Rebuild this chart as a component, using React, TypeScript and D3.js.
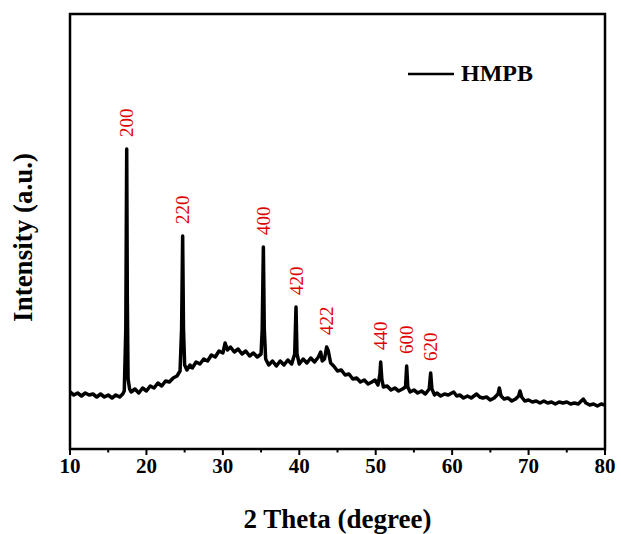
import React from 'react';
import * as d3 from 'd3';

const width = 621;
const height = 534;
const margin = { top: 14, right: 16, bottom: 85, left: 70 };

// XRD scan of HMPB, [2 theta, intensity (a.u.)]
const hmpbScan: [number, number][] = [
  [10.0, 57], [10.5, 54], [11.0, 56], [11.5, 53], [12.0, 56], [12.5, 54], [13.0, 55], [13.5, 52],
  [14.0, 55], [14.5, 52], [15.0, 54], [15.5, 51], [16.0, 54], [16.5, 52], [16.9, 55], [17.1, 58],
  [17.3, 120], [17.42, 300], [17.5, 150], [17.6, 70], [17.8, 60], [18.0, 57], [18.5, 60], [19.0, 56],
  [19.5, 61], [20.0, 58], [20.5, 63], [21.0, 61], [21.5, 66], [22.0, 63], [22.5, 68], [23.0, 67],
  [23.5, 71], [24.0, 73], [24.4, 78], [24.6, 120], [24.74, 213], [24.85, 120], [25.0, 84], [25.3, 79],
  [25.7, 84], [26.0, 81], [26.5, 87], [27.0, 85], [27.5, 90], [28.0, 88], [28.5, 94], [29.0, 92],
  [29.5, 98], [30.0, 96], [30.3, 106], [30.6, 99], [31.0, 102], [31.5, 97], [32.0, 100], [32.5, 95],
  [33.0, 98], [33.5, 93], [34.0, 96], [34.5, 92], [35.0, 95], [35.15, 120], [35.3, 202], [35.42, 120],
  [35.6, 90], [36.0, 84], [36.5, 88], [37.0, 83], [37.5, 88], [38.0, 84], [38.5, 89], [39.0, 85],
  [39.4, 95], [39.57, 142], [39.7, 95], [40.0, 85], [40.5, 90], [41.0, 86], [41.5, 91], [42.0, 87],
  [42.5, 92], [42.8, 97], [43.0, 88], [43.3, 90], [43.58, 102], [43.8, 98], [44.1, 86], [44.5, 83],
  [45.0, 78], [45.5, 79], [46.0, 74], [46.5, 75], [47.0, 70], [47.5, 71], [48.0, 67], [48.5, 69],
  [49.0, 65], [49.5, 67], [49.9, 69], [50.3, 64], [50.55, 75], [50.65, 87], [50.8, 70], [51.0, 62],
  [51.5, 63], [52.0, 59], [52.5, 61], [53.0, 58], [53.5, 60], [53.9, 62], [54.05, 83], [54.2, 62],
  [54.5, 57], [55.0, 59], [55.5, 56], [56.0, 58], [56.5, 55], [57.0, 60], [57.19, 76], [57.35, 60],
  [57.7, 54], [58.0, 56], [58.5, 53], [59.0, 55], [59.5, 54], [60.2, 57], [60.6, 53], [61.0, 54],
  [61.5, 51], [62.0, 53], [62.5, 51], [63.2, 55], [63.6, 52], [64.0, 51], [64.5, 52], [65.0, 49],
  [65.5, 51], [66.0, 55], [66.17, 61], [66.4, 53], [66.8, 50], [67.3, 51], [67.8, 48], [68.3, 50],
  [68.7, 53], [68.88, 58], [69.1, 52], [69.5, 48], [70.0, 49], [70.5, 47], [71.0, 48], [71.5, 46],
  [72.0, 48], [72.5, 46], [73.0, 47], [73.5, 45], [74.0, 47], [74.5, 46], [75.0, 47], [75.5, 45],
  [76.0, 46], [76.5, 45], [77.16, 50], [77.5, 46], [78.0, 44], [78.5, 45], [79.0, 43], [79.5, 45],
  [80.0, 44],
];

const peakAngles = [17.42, 24.74, 35.3, 39.57, 43.58, 50.65, 54.05, 57.19];
const peakLabels = ['200', '220', '400', '420', '422', '440', '600', '620'];

const majorTicks = [10, 20, 30, 40, 50, 60, 70, 80];
const minorTicks = [15, 25, 35, 45, 55, 65, 75];

const serif = '"Liberation Serif", "Times New Roman", serif';

export default function App() {
  const x = d3.scaleLinear().domain([10, 80]).range([margin.left, width - margin.right]);
  const y = d3.scaleLinear().domain([0, 435]).range([height - margin.bottom, margin.top]);

  const line = d3.line<[number, number]>()
    .x(d => x(d[0]))
    .y(d => y(d[1]));

  const peakTop = (a: number) =>
    d3.max(hmpbScan.filter(d => Math.abs(d[0] - a) < 0.2), d => d[1]) ?? 0;

  const bottom = height - margin.bottom;

  return (
    <svg width={width} height={height} style={{ position: 'absolute', left: 0, top: 0, background: '#fff' }}>
      <path d={line(hmpbScan) ?? ''} fill="none" stroke="#000" strokeWidth={3.5} strokeLinejoin="round" />

      {peakAngles.map((a, i) => {
        const px = x(a);
        const py = y(peakTop(a)) - 12;
        return (
          <text key={peakLabels[i]} transform={`translate(${px},${py}) rotate(-90)`} dy="0.35em"
            fontFamily={serif} fontSize={19} fill="#e00000">{peakLabels[i]}</text>
        );
      })}

      <rect x={margin.left} y={margin.top} width={width - margin.left - margin.right}
        height={bottom - margin.top} fill="none" stroke="#000" strokeWidth={2.5} />

      {majorTicks.map(t => (
        <g key={t}>
          <line x1={x(t)} x2={x(t)} y1={bottom} y2={bottom + 6} stroke="#000" strokeWidth={2} />
          <text x={x(t)} y={bottom + 24} textAnchor="middle" fontFamily={serif} fontWeight="bold" fontSize={21}>{t}</text>
        </g>
      ))}
      {minorTicks.map(t => (
        <line key={t} x1={x(t)} x2={x(t)} y1={bottom} y2={bottom + 3.5} stroke="#000" strokeWidth={2} />
      ))}

      <text x={(margin.left + width - margin.right) / 2} y={528} textAnchor="middle"
        fontFamily={serif} fontWeight="bold" fontSize={27}>2 Theta (degree)</text>
      <text transform={`translate(32,${(margin.top + bottom) / 2 + 6}) rotate(-90)`} textAnchor="middle"
        fontFamily={serif} fontWeight="bold" fontSize={27}>Intensity (a.u.)</text>

      <line x1={408} x2={454} y1={74} y2={74} stroke="#000" strokeWidth={2.5} />
      <text x={461} y={81} fontFamily={serif} fontWeight="bold" fontSize={24}>HMPB</text>
    </svg>
  );
}
